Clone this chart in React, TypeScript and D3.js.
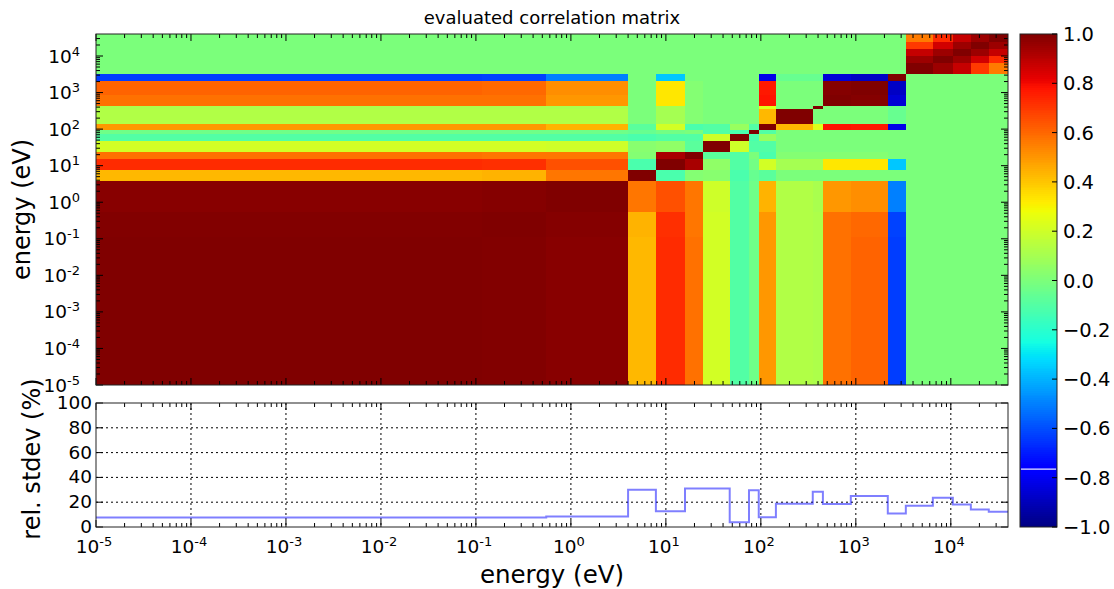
import React from "react";
import * as d3 from "d3";

// group boundaries (eV), 20 groups
const energyEdges = [
  1e-5, 0.116, 0.55, 4.0, 7.85, 15.9, 24.5, 47, 75, 95, 144, 352, 450, 885,
  2170, 3360, 6470, 10500, 16250, 25100, 4e4,
];

// relative standard deviation per group (%)
const relStdev = [
  7.6, 7.6, 8.5, 30, 12.8, 31, 31, 3.8, 29.7, 7.9, 18.8, 28.5, 18.5, 25, 10.9,
  17.1, 23.6, 18.2, 14.2, 12.2,
];

// lower triangle of the correlation matrix, row i holds groups 0..i
const corrLower = [
  [1],
  [0.995, 1],
  [0.985, 0.99, 1],
  [0.43, 0.44, 0.57, 1],
  [0.73, 0.72, 0.65, -0.12, 1],
  [0.58, 0.57, 0.57, 0.02, 0.93, 1],
  [0.21, 0.21, 0.2, 0.03, 0.05, -0.08, 1],
  [-0.1, -0.1, -0.1, -0.12, -0.1, -0.1, 0.2, 1],
  [-0.03, -0.03, -0.03, -0.05, -0.02, 0.0, -0.1, -0.12, 1],
  [0.5, 0.5, 0.44, -0.08, 0.21, -0.12, -0.1, 0.07, -0.1, 1],
  [0.13, 0.13, 0.13, 0.0, 0.1, 0.02, 0.0, 0.0, 0.0, 0.43, 1],
  [0.12, 0.12, 0.11, 0.0, 0.1, 0.02, 0.0, 0.0, 0.0, 0.24, 0.0, 1],
  [0.58, 0.58, 0.5, 0.0, 0.33, 0.02, 0.0, 0.0, 0.0, 0.78, 0.0, 0.0, 1],
  [0.61, 0.6, 0.52, 0.0, 0.33, 0.02, 0.0, 0.0, 0.0, 0.77, 0.0, 0.0, 0.99, 1],
  [-0.63, -0.62, -0.5, 0.0, -0.36, 0.0, 0.0, 0.0, 0.0, -0.82, -0.05, -0.05, -0.85, -0.88, 1],
  [0, 0, 0, 0, 0, 0, 0, 0, 0, 0, 0, 0, 0, 0, 0, 1],
  [0, 0, 0, 0, 0, 0, 0, 0, 0, 0, 0, 0, 0, 0, 0, 0.95, 1],
  [0, 0, 0, 0, 0, 0, 0, 0, 0, 0, 0, 0, 0, 0, 0, 0.88, 0.95, 1],
  [0, 0, 0, 0, 0, 0, 0, 0, 0, 0, 0, 0, 0, 0, 0, 0.7, 0.86, 0.95, 1],
  [0, 0, 0, 0, 0, 0, 0, 0, 0, 0, 0, 0, 0, 0, 0, 0.56, 0.73, 0.88, 0.95, 1],
];

const decades = [-5, -4, -3, -2, -1, 0, 1, 2, 3, 4];
const stdevTicks = [0, 20, 40, 60, 80, 100];
const colorbarTicks = [-1, -0.8, -0.6, -0.4, -0.2, 0, 0.2, 0.4, 0.6, 0.8, 1];
const colorbarGlitch = -0.765;

const W = 1114;
const H = 589;
const main = { left: 96, right: 1008, top: 34, bottom: 385 };
const lower = { top: 403, bottom: 527 };
const cbar = { left: 1020, right: 1057, top: 34, bottom: 527 };
const font = "DejaVu Sans, sans-serif";

// matplotlib "jet"
const jr = d3.scaleLinear().domain([0, 0.35, 0.66, 0.89, 1]).range([0, 0, 1, 1, 0.5]).clamp(true);
const jg = d3.scaleLinear().domain([0, 0.125, 0.375, 0.64, 0.91, 1]).range([0, 0, 1, 1, 0, 0]).clamp(true);
const jb = d3.scaleLinear().domain([0, 0.11, 0.34, 0.65, 1]).range([0.5, 1, 1, 0, 0]).clamp(true);
const jet = (v: number) => {
  const t = (v + 1) / 2;
  return d3.rgb(255 * jr(t), 255 * jg(t), 255 * jb(t)).formatHex();
};

const corr = (i: number, j: number) => (i >= j ? corrLower[i][j] : corrLower[j][i]);

const x = d3.scaleLog().domain([1e-5, 4e4]).range([main.left, main.right]);
const yE = d3.scaleLog().domain([1e-5, 4e4]).range([main.bottom, main.top]);
const yS = d3.scaleLinear().domain([0, 100]).range([lower.bottom, lower.top]);
const yC = d3.scaleLinear().domain([-1, 1]).range([cbar.bottom, cbar.top]);

const minorTicks: number[] = [];
decades.forEach((e) => {
  for (let k = 2; k <= 9; k++) {
    const v = k * Math.pow(10, e);
    if (v < 4e4) minorTicks.push(v);
  }
});

const Pow = ({ e, ...rest }: any) => (
  <text {...rest} fontFamily={font}>
    <tspan fontSize={18.5}>10</tspan>
    <tspan fontSize={13} dy={-7}>{String(e)}</tspan>
  </text>
);

export default function App() {
  const nG = energyEdges.length - 1;
  const cells: any[] = [];
  for (let i = 0; i < nG; i++) {
    for (let j = 0; j < nG; j++) {
      const x0 = x(energyEdges[j]);
      const x1 = x(energyEdges[j + 1]);
      const y0 = yE(energyEdges[i + 1]);
      const y1 = yE(energyEdges[i]);
      cells.push(
        <rect key={i + "-" + j} x={x0} y={y0} width={x1 - x0 + 0.3} height={y1 - y0 + 0.3} fill={jet(corr(i, j))} />
      );
    }
  }

  const stepData: [number, number][] = energyEdges.map((e, i) => [e, relStdev[Math.min(i, relStdev.length - 1)]]);
  const stepPath = d3
    .line<[number, number]>()
    .x((d) => x(d[0]))
    .y((d) => yS(d[1]))
    .curve(d3.curveStepAfter)(stepData);

  const cbSteps = d3.range(256).map((k) => {
    const v0 = -1 + (2 * k) / 256;
    const v1 = -1 + (2 * (k + 1)) / 256;
    return { v: (v0 + v1) / 2, y: yC(v1), h: yC(v0) - yC(v1) + 0.4 };
  });

  const majorLen = 7;
  const minorLen = 4;

  return (
    <svg width={W} height={H} style={{ position: "absolute", left: 0, top: 0, display: "block", background: "#fff" }}>
      <text x={(main.left + main.right) / 2} y={24} textAnchor="middle" fontFamily={font} fontSize={18}>
        evaluated correlation matrix
      </text>

      {/* heatmap */}
      <g shapeRendering="crispEdges">{cells}</g>
      <g stroke="#000" strokeWidth={1}>
        {decades.map((e) => {
          const v = Math.pow(10, e);
          return (
            <g key={"mj" + e}>
              <line x1={x(v)} x2={x(v)} y1={main.top} y2={main.top + majorLen} />
              <line x1={x(v)} x2={x(v)} y1={main.bottom} y2={main.bottom - majorLen} />
              <line x1={main.left} x2={main.left + majorLen} y1={yE(v)} y2={yE(v)} />
              <line x1={main.right} x2={main.right - majorLen} y1={yE(v)} y2={yE(v)} />
            </g>
          );
        })}
        {minorTicks.map((v, k) => (
          <g key={"mn" + k}>
            <line x1={x(v)} x2={x(v)} y1={main.top} y2={main.top + minorLen} />
            <line x1={x(v)} x2={x(v)} y1={main.bottom} y2={main.bottom - minorLen} />
            <line x1={main.left} x2={main.left + minorLen} y1={yE(v)} y2={yE(v)} />
            <line x1={main.right} x2={main.right - minorLen} y1={yE(v)} y2={yE(v)} />
          </g>
        ))}
      </g>
      <rect x={main.left} y={main.top} width={main.right - main.left} height={main.bottom - main.top} fill="none" stroke="#222" />
      {decades.map((e) => (
        <Pow key={"yl" + e} e={e} x={80} y={yE(Math.pow(10, e)) + 6.5} textAnchor="end" />
      ))}
      <text transform={`translate(30,${(main.top + main.bottom) / 2}) rotate(-90)`} textAnchor="middle" fontFamily={font} fontSize={24}>
        energy (eV)
      </text>

      {/* rel. stdev panel */}
      <g stroke="#000" strokeWidth={1} strokeDasharray="2,3">
        {decades.slice(1).map((e) => (
          <line key={"gx" + e} x1={x(Math.pow(10, e))} x2={x(Math.pow(10, e))} y1={lower.top} y2={lower.bottom} />
        ))}
        {stdevTicks.slice(1, -1).map((t) => (
          <line key={"gy" + t} x1={main.left} x2={main.right} y1={yS(t)} y2={yS(t)} />
        ))}
      </g>
      <path d={stepPath || ""} fill="none" stroke="#0000ff" strokeOpacity={0.5} strokeWidth={2} />
      <g stroke="#000" strokeWidth={1}>
        {decades.map((e) => {
          const v = Math.pow(10, e);
          return (
            <g key={"lmj" + e}>
              <line x1={x(v)} x2={x(v)} y1={lower.top} y2={lower.top + majorLen} />
              <line x1={x(v)} x2={x(v)} y1={lower.bottom} y2={lower.bottom - majorLen} />
            </g>
          );
        })}
        {minorTicks.map((v, k) => (
          <g key={"lmn" + k}>
            <line x1={x(v)} x2={x(v)} y1={lower.top} y2={lower.top + minorLen} />
            <line x1={x(v)} x2={x(v)} y1={lower.bottom} y2={lower.bottom - minorLen} />
          </g>
        ))}
        {stdevTicks.map((t) => (
          <g key={"st" + t}>
            <line x1={main.left} x2={main.left + majorLen} y1={yS(t)} y2={yS(t)} />
            <line x1={main.right} x2={main.right - majorLen} y1={yS(t)} y2={yS(t)} />
          </g>
        ))}
      </g>
      <rect x={main.left} y={lower.top} width={main.right - main.left} height={lower.bottom - lower.top} fill="none" stroke="#222" />
      {stdevTicks.map((t) => (
        <text key={"sl" + t} x={92} y={yS(t) + 6} textAnchor="end" fontFamily={font} fontSize={18.5}>
          {t}
        </text>
      ))}
      {decades.map((e) => (
        <Pow key={"xl" + e} e={e} x={x(Math.pow(10, e)) - 2} y={553} textAnchor="middle" />
      ))}
      <text x={(main.left + main.right) / 2} y={583} textAnchor="middle" fontFamily={font} fontSize={24.5}>
        energy (eV)
      </text>
      <text transform={`translate(40,${(lower.top + lower.bottom) / 2 - 6}) rotate(-90)`} textAnchor="middle" fontFamily={font} fontSize={24}>
        rel. stdev (%)
      </text>

      {/* colorbar */}
      <g shapeRendering="crispEdges">
        {cbSteps.map((s, k) => (
          <rect key={"cb" + k} x={cbar.left} y={s.y} width={cbar.right - cbar.left} height={s.h} fill={jet(s.v)} />
        ))}
      </g>
      <line x1={cbar.left + 1} x2={cbar.right - 1} y1={yC(colorbarGlitch)} y2={yC(colorbarGlitch)} stroke="#e8e8ff" strokeWidth={1.2} />
      <rect x={cbar.left} y={cbar.top} width={cbar.right - cbar.left} height={cbar.bottom - cbar.top} fill="none" stroke="#222" />
      {colorbarTicks.map((t) => (
        <g key={"ct" + t}>
          <line x1={cbar.right} x2={cbar.right - 5} y1={yC(t)} y2={yC(t)} stroke="#000" />
          <text x={cbar.right + 6} y={yC(t) + 7} fontFamily={font} fontSize={19.5}>
            {t.toFixed(1).replace("-", "\u2212")}
          </text>
        </g>
      ))}
    </svg>
  );
}
